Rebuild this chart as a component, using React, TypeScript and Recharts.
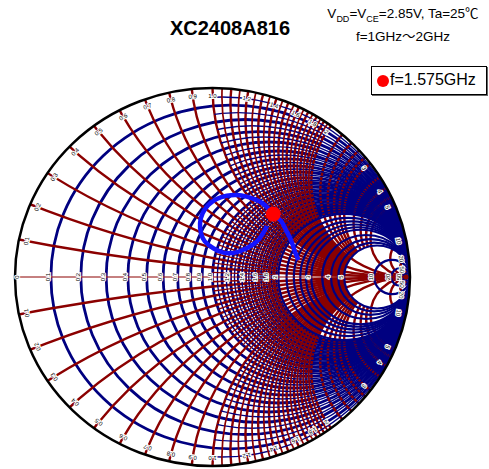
import React from "react";
import * as Recharts from "recharts";
import { ComposedChart, Line, XAxis, YAxis, ReferenceDot } from "recharts";

const W = 489;
const H = 469;
const MARGIN = { top: 88, right: 79, bottom: 3, left: 15 };

// S-parameter trace (reflection coefficient, real / imaginary), 1GHz -> 2GHz
const traceRe = [
  0.435, 0.418, 0.397, 0.372, 0.347, 0.308, 0.266, 0.224, 0.173, 0.123, 0.072,
  0.021, -0.021, -0.05, -0.063, -0.058, -0.038, 0.004, 0.055, 0.114, 0.173,
  0.224, 0.254, 0.276,
];
const traceIm = [
  0.09, 0.132, 0.196, 0.249, 0.296, 0.333, 0.381, 0.407, 0.425, 0.434, 0.43,
  0.413, 0.381, 0.337, 0.284, 0.231, 0.187, 0.152, 0.129, 0.129, 0.152, 0.187,
  0.228, 0.27,
];
// f = 1.575GHz
const markerRe = 0.308;
const markerIm = 0.333;

// Smith chart grid values
const rValues = [
  0.1, 0.2, 0.3, 0.4, 0.5, 0.6, 0.7, 0.8, 0.9, 1, 1.1, 1.2, 1.3, 1.4, 1.5, 1.6,
  1.7, 1.8, 1.9, 2, 2.2, 2.4, 2.6, 2.8, 3, 3.5, 4, 4.5, 5, 10, 20, 50,
];
const xValues = [
  0.1, 0.2, 0.3, 0.4, 0.5, 0.6, 0.7, 0.8, 0.9, 1, 1.1, 1.2, 1.3, 1.4, 1.5, 1.6,
  1.7, 1.8, 1.9, 2, 2.2, 2.4, 2.6, 2.8, 3, 3.5, 4, 4.5, 5, 10, 20, 50,
];
// finer subdivisions, only drawn where the main grid gets wide
const fineLow = [0.05, 0.15, 0.25, 0.35, 0.45, 0.55, 0.65, 0.75, 0.85, 0.95];
const fineHigh = [1.05, 1.15, 1.25, 1.35, 1.45, 1.55, 1.65, 1.75, 1.85, 1.95];
const majorValues = [0.2, 0.5, 1, 2, 5, 10, 20, 50];
const labelValues = [
  0.1, 0.2, 0.3, 0.4, 0.5, 0.6, 0.7, 0.8, 0.9, 1, 1.2, 1.4, 1.6, 1.8, 2, 3, 4,
  5, 10, 20, 50,
];

const traceData = traceRe.map((re, i) => ({ re, im: traceIm[i] }));

const BLUE = "#000080";
const RED = "#8b0000";

function fmt(v: number) {
  return v === 1 ? "1.0" : String(v);
}

function useArea() {
  const hook = (Recharts as any).usePlotArea;
  const area = hook ? hook() : null;
  if (area && area.width > 0) return area;
  return {
    x: MARGIN.left,
    y: MARGIN.top,
    width: W - MARGIN.left - MARGIN.right,
    height: H - MARGIN.top - MARGIN.bottom,
  };
}

function SmithGrid() {
  const area = useArea();
  const cx = area.x + area.width / 2;
  const cy = area.y + area.height / 2;
  const rx = area.width / 2;
  const ry = area.height / 2;
  const px = (g: number) => cx + g * rx;
  const py = (g: number) => cy - g * ry;

  const minorX = xValues.filter((v) => !majorValues.includes(v));
  const majorX = xValues.filter((v) => majorValues.includes(v));
  const lowR = rValues.filter((r) => r < 2);
  const highR = rValues.filter((r) => r >= 2);

  const xArc = (v: number, sign: number, key: string, sw = 2.4) => (
    <ellipse key={key} cx={px(1)} cy={py(sign / v)} rx={rx / v} ry={ry / v}
      fill="none" stroke={RED} strokeWidth={sw} />
  );
  const rCircle = (r: number, key: string, sw = 2.8) => (
    <ellipse key={key} cx={px(r / (1 + r))} cy={cy} rx={rx / (1 + r)} ry={ry / (1 + r)}
      fill="none" stroke={BLUE} strokeWidth={sw} />
  );
  const rDisk = (r: number, fill: string) => (
    <ellipse cx={px(r / (1 + r))} cy={cy} rx={rx / (1 + r)} ry={ry / (1 + r)} fill={fill} />
  );

  return (
    <g>
      <defs>
        <clipPath id="smithClip">
          <ellipse cx={cx} cy={cy} rx={rx} ry={ry} />
        </clipPath>
        <mask id="minorMask" maskUnits="userSpaceOnUse" x={0} y={0} width={W} height={H}>
          <rect x={0} y={0} width={W} height={H} fill="white" />
          {rDisk(5, "black")}
        </mask>
        <mask id="highXMask" maskUnits="userSpaceOnUse" x={0} y={0} width={W} height={H}>
          <ellipse cx={px(1)} cy={py(1)} rx={rx} ry={ry} fill="white" />
          <ellipse cx={px(1)} cy={py(-1)} rx={rx} ry={ry} fill="white" />
        </mask>
        <mask id="ringMask" maskUnits="userSpaceOnUse" x={0} y={0} width={W} height={H}>
          {rDisk(1, "white")}
          {rDisk(2, "black")}
        </mask>
      </defs>
      <g clipPath="url(#smithClip)">
        {lowR.map((r) => rCircle(r, "r" + r))}
        <g mask="url(#minorMask)">
          {minorX.map((v) => xArc(v, 1, "xp" + v))}
          {minorX.map((v) => xArc(v, -1, "xn" + v))}
        </g>
        {majorX.map((v) => xArc(v, 1, "Xp" + v))}
        {majorX.map((v) => xArc(v, -1, "Xn" + v))}
        <g mask="url(#highXMask)">{fineLow.map((r) => rCircle(r, "rf" + r, 1.4))}</g>
        {fineHigh.map((r) => rCircle(r, "rh" + r, 1.4))}
        <g mask="url(#minorMask)">
          {fineHigh.map((v) => xArc(v, 1, "xhp" + v, 1.7))}
          {fineHigh.map((v) => xArc(v, -1, "xhn" + v, 1.7))}
        </g>
        <g mask="url(#ringMask)">
          {fineLow.map((v) => xArc(v, 1, "xfp" + v, 1.3))}
          {fineLow.map((v) => xArc(v, -1, "xfn" + v, 1.3))}
        </g>
        {highR.map((r) => rCircle(r, "R" + r, 2.2))}
        <line x1={px(-1)} x2={px(1)} y1={cy} y2={cy} stroke={RED} strokeWidth={1} />
      </g>
      <ellipse cx={cx} cy={cy} rx={rx} ry={ry} fill="none" stroke="#000" strokeWidth={2.5} />
      <g fontFamily="Liberation Sans, Arial, sans-serif" fontSize={6} fill="#000">
        <text x={px(-1) + 2} y={cy} transform={`rotate(-90 ${px(-1) + 2} ${cy})`} textAnchor="middle" dy={2}
          stroke="#fff" strokeWidth={2} paintOrder="stroke">0</text>
        {labelValues.map((r) => {
          const x = px((r - 1) / (r + 1)) - 3;
          return (
            <text key={"lr" + r} x={x} y={cy} dy={2} textAnchor="middle"
              transform={`rotate(-90 ${x} ${cy})`} stroke="#fff" strokeWidth={2} paintOrder="stroke">
              {fmt(r)}
            </text>
          );
        })}
        {labelValues.flatMap((v) =>
          [1, -1].map((s) => {
            const re = (v * v - 1) / (v * v + 1);
            const im = (s * 2 * v) / (v * v + 1);
            const x = px(re * 0.96);
            const y = py(im * 0.96);
            const ang = (Math.atan2(im, re) * 180) / Math.PI;
            return (
              <text key={"lx" + v + s} x={x} y={y} dy={2} textAnchor="middle"
                transform={`rotate(${90 - ang} ${x} ${y})`} stroke="#fff" strokeWidth={2} paintOrder="stroke">
                {fmt(v)}
              </text>
            );
          })
        )}
      </g>
    </g>
  );
}

export default function App() {
  const font = "'Liberation Sans', Arial, 'Noto Sans CJK JP', sans-serif";
  return (
    <div style={{ position: "absolute", left: 0, top: 0, width: W, height: H, background: "#fff", fontFamily: font }}>
      <ComposedChart width={W} height={H} margin={MARGIN}>
        <XAxis dataKey="re" type="number" domain={[-1, 1]} hide allowDataOverflow />
        <YAxis type="number" domain={[-1, 1]} hide allowDataOverflow />
        <SmithGrid />
        <Line
          data={traceData}
          dataKey="im"
          type="natural"
          stroke="#1414ff"
          strokeWidth={4.5}
          dot={false}
          activeDot={false}
          isAnimationActive={false}
        />
        <ReferenceDot x={markerRe} y={markerIm} r={7.5} fill="#ff0000" stroke="none" />
      </ComposedChart>
      <div style={{ position: "absolute", left: 130, top: 17, width: 200, textAlign: "center", fontWeight: "bold", fontSize: 20 }}>
        XC2408A816
      </div>
      <div style={{ position: "absolute", left: 313, top: 4, width: 180, textAlign: "center", fontSize: 13.5, lineHeight: "19px" }}>
        <div>
          V<sub style={{ fontSize: 9 }}>DD</sub>=V<sub style={{ fontSize: 9 }}>CE</sub>=2.85V, Ta=25℃
        </div>
        <div style={{ marginTop: -2 }}>f=1GHz～2GHz</div>
      </div>
      <div style={{ position: "absolute", left: 371, top: 66, width: 114, height: 27, border: "1px solid #000", boxShadow: "1px 1px 0 #666", background: "#fff" }}>
        <div style={{ position: "absolute", left: 5, top: 8, width: 12, height: 12, borderRadius: 6, background: "#ff0000" }} />
        <div style={{ position: "absolute", left: 18, top: 4, fontSize: 16 }}>f=1.575GHz</div>
      </div>
    </div>
  );
}
